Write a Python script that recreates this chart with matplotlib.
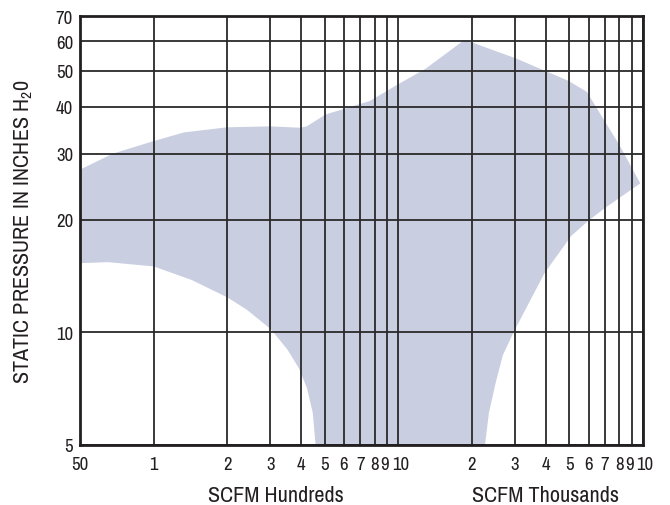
import matplotlib
matplotlib.use("Agg")
import matplotlib.pyplot as plt
import matplotlib.font_manager as fm
import matplotlib.transforms as mtransforms
from matplotlib.ticker import FixedLocator, FixedFormatter, NullLocator, NullFormatter

# operating envelope, upper edge (SCFM, inches H2O), left to right
upper_x = [50, 68, 98, 133, 200, 300, 398, 422, 461, 505, 765, 970, 1292, 1855, 2000,
           3030, 3960, 4950, 5895, 6710, 8000, 9750]
upper_y = [27.2, 30.0, 32.3, 34.2, 35.3, 35.5, 35.2, 35.5, 36.8, 38.2, 41.5, 45.5, 50.6, 60.3, 59.5,
           53.9, 50.0, 47.0, 43.9, 38.2, 31.7, 25.0]

# lower edge, right part (from the tip down to the bottom)
lower_right_x = [7000, 6000, 5090, 3960, 2980, 2676, 2508, 2346, 2260]
lower_right_y = [21.5, 19.9, 18.1, 14.4, 10.1, 8.7, 7.4, 6.1, 5.0]

# lower edge, left part (from the bottom back up to the left edge)
lower_left_x = [459, 447, 423, 393, 352, 301, 240, 200, 143, 100, 65, 50]
lower_left_y = [5.0, 6.1, 7.1, 8.0, 9.0, 10.2, 11.5, 12.4, 13.8, 15.0, 15.4, 15.3]

x_ticks = [50, 100, 200, 300, 400, 500, 600, 700, 800, 900, 1000,
           2000, 3000, 4000, 5000, 6000, 7000, 8000, 9000, 10000]
x_labels = ["50", "1", "2", "3", "4", "5", "6", "7", "8", "9", "10",
            "2", "3", "4", "5", "6", "7", "8", "9", "10"]
y_ticks = [5, 10, 20, 30, 40, 50, 60, 70]

# a condensed face if one is installed, otherwise Liberation Sans
tick_size, label_size = 11, 12.5
family = ['Liberation Sans', 'DejaVu Sans']
stretch = 'normal'
names = sorted({f.name for f in fm.fontManager.ttflist})
narrow = [n for n in names if 'Narrow' in n or 'Condensed' in n]
if narrow:
    family = [narrow[0], 'DejaVu Sans']
    tick_size, label_size = 13.5, 16
elif any(f.name == 'DejaVu Sans' and f.stretch == 'condensed' for f in fm.fontManager.ttflist):
    family = ['DejaVu Sans']
    stretch = 'condensed'
    tick_size, label_size = 13.5, 16
plt.rcParams['font.family'] = family
plt.rcParams['font.stretch'] = stretch

text_color = '#231f20'

fig = plt.figure(figsize=(6.7, 5.06), dpi=100)
ax = fig.add_axes([80 / 670, 60 / 506, 563 / 670, 429 / 506])

ax.set_xscale('log')
ax.set_yscale('log')
ax.set_xlim(50, 10000)
ax.set_ylim(5, 70)

poly_x = lower_left_x + upper_x + lower_right_x
poly_y = lower_left_y + upper_y + lower_right_y
ax.fill(poly_x, poly_y, color='#c9cee1', lw=0, zorder=1)

ax.xaxis.set_major_locator(FixedLocator(x_ticks))
ax.xaxis.set_major_formatter(NullFormatter())
ax.xaxis.set_minor_locator(NullLocator())
ax.yaxis.set_major_locator(FixedLocator(y_ticks))
ax.yaxis.set_major_formatter(FixedFormatter([str(v) for v in y_ticks]))
ax.yaxis.set_minor_locator(NullLocator())

ax.tick_params(length=0, labelsize=tick_size, colors=text_color)
ax.tick_params(axis='y', pad=5)

# x tick labels drawn by hand so the crowded "9" / "10" pairs can be nudged apart
xtrans = ax.get_xaxis_transform()
for tick, lab in zip(x_ticks, x_labels):
    dx = 0
    if lab == "9":
        dx = -1.5
    elif lab == "10":
        dx = 1.5
    tr = xtrans + mtransforms.ScaledTranslation(dx / 72, 0, fig.dpi_scale_trans)
    ax.text(tick, -0.045, lab, transform=tr, ha='center', va='center',
            fontsize=tick_size, color=text_color, clip_on=False)

ax.grid(True, color='#2a2a2a', lw=1.3, zorder=2)
ax.set_axisbelow(False)
for s in ax.spines.values():
    s.set_linewidth(2)
    s.set_color(text_color)
    s.set_zorder(3)

ax.set_ylabel(r'STATIC PRESSURE IN INCHES H$_\mathregular{2}$0', fontsize=label_size,
              color=text_color)
ax.yaxis.set_label_coords(-0.08, 0.5)

ax.text(315, -0.116, 'SCFM Hundreds', transform=xtrans,
        ha='center', va='center', fontsize=label_size, color=text_color)
ax.text(4000, -0.116, 'SCFM Thousands', transform=xtrans,
        ha='center', va='center', fontsize=label_size, color=text_color)

fig.savefig('out.png', dpi=100)
